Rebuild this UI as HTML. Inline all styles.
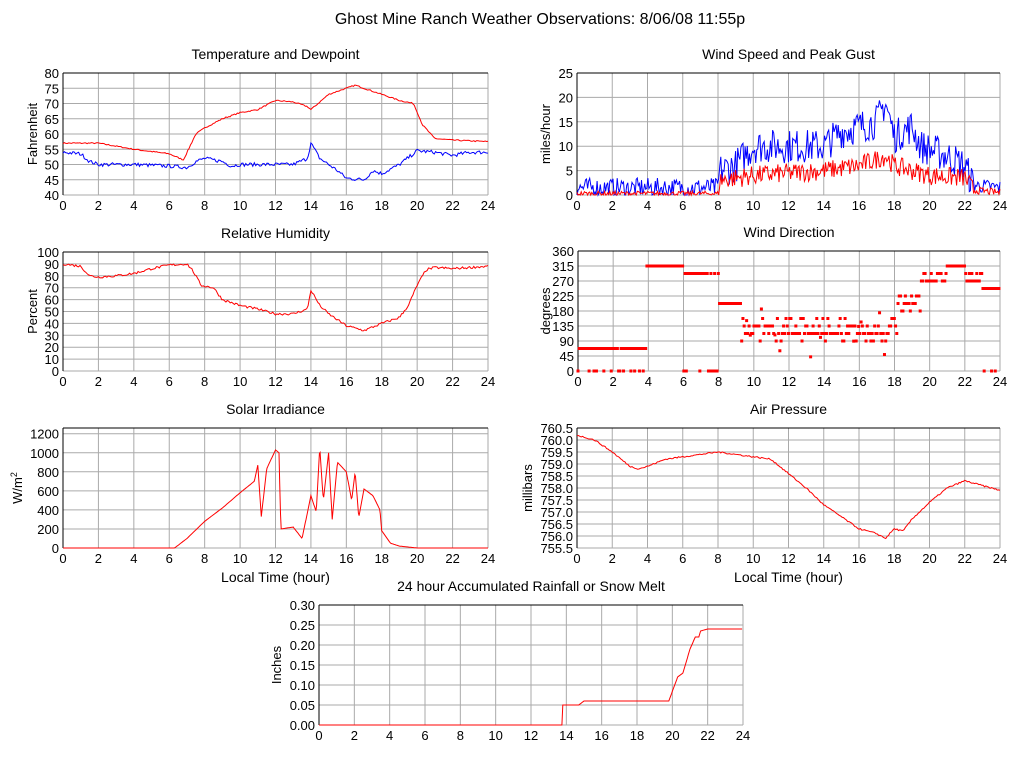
<!DOCTYPE html>
<html><head><meta charset="utf-8"><style>
body{margin:0;background:#fff;width:1024px;height:768px;overflow:hidden}
svg{font-family:"Liberation Sans",Arial,sans-serif}
</style></head><body>
<svg id="s" width="1024" height="768" xmlns="http://www.w3.org/2000/svg">
<text x="540" y="24" font-size="16" text-anchor="middle">Ghost Mine Ranch Weather Observations: 8/06/08 11:55p</text>
</svg>
<script>
var S=document.getElementById('s'),NS='http://www.w3.org/2000/svg';
function el(t,a,txt){var e=document.createElementNS(NS,t);for(var k in a)e.setAttribute(k,a[k]);if(txt!=null)e.textContent=txt;S.appendChild(e);return e;}
var seed=7;function rnd(){seed=(seed*16807)%2147483647;return seed/2147483647;}
function interp(k,h){for(var i=0;i<k.length-1;i++){if(h<=k[i+1][0]){var a=k[i],b=k[i+1],t=(h-a[0])/(b[0]-a[0]||1);return a[1]+(b[1]-a[1])*t;}}return k[k.length-1][1];}
function chart(o){
 var L=o.x0,R=o.x1,T=o.y0,B=o.y1,W=R-L,H=B-T;
 function X(h){return L+h/24*W}function Y(v){return B-(v-o.min)/(o.max-o.min)*H}
 el('text',{x:(L+R)/2,y:T-14,'font-size':14,'text-anchor':'middle'},o.title);
 for(var h=0;h<=24;h+=2){el('line',{x1:X(h),x2:X(h),y1:T,y2:B,stroke:'#aaa','stroke-width':1});
  el('text',{x:X(h),y:B+15,'font-size':13,'text-anchor':'middle'},h);}
 for(var i=0;i<o.labels.length;i++){var v=o.labels[i];el('line',{x1:L,x2:R,y1:Y(v),y2:Y(v),stroke:'#aaa','stroke-width':1});
  el('text',{x:L-4,y:Y(v)+5,'font-size':13,'text-anchor':'end'},o.fmt?o.fmt(v):v);}
 el('line',{x1:L,x2:R,y1:T,y2:T,stroke:'#000'});el('line',{x1:L,x2:L,y1:T,y2:B,stroke:'#000'});
 var yl=el('text',{x:0,y:0,'font-size':13,'text-anchor':'middle',transform:'translate('+o.ylx+','+(T+B)/2+') rotate(-90)'},o.ylab);
 if(o.sup){var ts=document.createElementNS(NS,'tspan');ts.setAttribute('baseline-shift','super');ts.setAttribute('font-size','9');ts.textContent=o.sup;yl.appendChild(ts);}
 if(o.xlab)el('text',{x:(L+R)/2,y:B+34,'font-size':14,'text-anchor':'middle'},o.xlab);
 o.series.forEach(function(s){
  if(s.dots){s.dots.forEach(function(p){el('rect',{x:X(p[0])-1.5,y:Y(p[1])-1.5,width:3,height:3,fill:'red'})});return;}
  var pts=[];for(var h=0;h<=24;h+=s.step||0.08){var v=interp(s.k,h)+(s.noise?s.noise(h):0);if(v<o.min)v=o.min;if(v>o.max)v=o.max;pts.push(X(h).toFixed(1)+','+Y(v).toFixed(1));}
  el('polyline',{points:pts.join(' '),fill:'none',stroke:s.c,'stroke-width':1});
 });
}
function n(a){return function(){return (rnd()-0.5)*a}}
chart({x0:63,x1:488,y0:73,y1:195,min:40,max:80,labels:[40,45,50,55,60,65,70,75,80],title:'Temperature and Dewpoint',ylab:'Fahrenheit',ylx:37,series:[
 {c:'red',noise:n(0.4),k:[[0,57],[2,57],[4,55],[6,53.5],[6.8,51.5],[7.5,60],[8,62],[9,65],[10,67],[11,68],[12,71],[13,70.5],[13.8,69],[14,68],[15,73],[16,75],[16.5,76],[17,75],[18,73],[19,71],[19.8,70],[20.3,63],[21,58.5],[22,58],[24,57.5]]},
 {c:'blue',noise:n(1.2),k:[[0,54],[1,53.5],[1.5,51],[2,50],[4,50],[6,49.5],[7,49],[7.5,51],[8,52],[9,51],[9.5,49.5],[10,50],[13,50],[13.8,52],[14,57],[14.5,52],[15,50],[15.5,48],[16,45.5],[17,45],[17.5,48],[18,47],[19,50],[20,54.5],[21,54],[22,53],[23,54],[24,54]]}]});
chart({x0:577,x1:1000,y0:73,y1:195,min:0,max:25,labels:[0,5,10,15,20,25],title:'Wind Speed and Peak Gust',ylab:'miles/hour',ylx:550,series:[
 {c:'blue',step:0.06,noise:function(h){return (rnd()-0.5)*(h<8?4:h>22.5?3:7)},k:[[0,1.5],[8,1.5],[8.1,5],[9,6],[10,10],[14,10],[15,13],[17,15],[17.5,19],[18,12],[19,14],[19.5,10],[21,8],[22,6],[22.5,2],[24,1.5]]},
 {c:'red',step:0.06,noise:function(h){return (rnd()-0.5)*(h<8?1:h>22.5?1.5:4)},k:[[0,0.3],[8,0.3],[8.1,3],[10,4],[14,5],[16,6],[17.5,8],[18,6],[20,4],[22,3.5],[22.5,1],[24,0.5]]}]});
chart({x0:63,x1:488,y0:252,y1:371,min:0,max:100,labels:[0,10,20,30,40,50,60,70,80,90,100],title:'Relative Humidity',ylab:'Percent',ylx:37,series:[
 {c:'red',noise:n(2),k:[[0,90],[1,88],[1.5,80],[2,79],[3,80],[4,82],[5,86],[6,89],[7,90],[7.3,85],[7.8,72],[8.5,70],[9,60],[10,55],[11,52],[12,48],[13,48],[13.8,52],[14,68],[14.5,55],[15,48],[16,38],[17,34],[18,40],[19,45],[19.5,55],[20,72],[20.5,85],[21,87],[22,86],[23,87],[24,88]]}]});
var d=[];for(var h=0;h<=24;h+=0.07){var v;
 if(h<4)v=rnd()<0.2?0:67.5;else if(h<6)v=315;else if(h<8)v=rnd()<0.3?0:292.5;else if(h<9.3)v=202.5;
 else if(h<18.2)v=[112.5,135,112.5,135,90,157.5,112.5][Math.floor(rnd()*7)]+(rnd()<0.08?(rnd()-0.5)*150:0);
 else if(h<19.5)v=180+Math.floor(rnd()*3)*22.5;else if(h<21)v=rnd()<0.5?292.5:270;else if(h<22)v=315;else if(h<23)v=rnd()<0.5?270:292.5;else v=rnd()<0.4?0:247.5;
 if(h>3.9&&h<4.05)v=315;d.push([h,v]);}
chart({x0:578,x1:1000,y0:251,y1:371,min:0,max:360,labels:[0,45,90,135,180,225,270,315,360],title:'Wind Direction',ylab:'degrees',ylx:550,series:[{dots:d}]});
chart({x0:63,x1:488,y0:428,y1:548,min:0,max:1260,labels:[0,200,400,600,800,1000,1200],title:'Solar Irradiance',ylab:'W/m',sup:'2',ylx:22,xlab:'Local Time (hour)',series:[
 {c:'red',step:0.04,k:[[0,0],[6.3,0],[7,100],[8,280],[9,420],[10,580],[10.8,700],[11,870],[11.2,330],[11.5,830],[12,1030],[12.2,1000],[12.3,200],[13,220],[13.5,100],[14,550],[14.3,380],[14.5,1060],[14.7,500],[15,1000],[15.2,300],[15.5,900],[16,800],[16.3,500],[16.5,800],[16.7,320],[17,620],[17.5,550],[17.9,400],[18,180],[18.5,50],[19,20],[20,0],[24,0]]}]});
chart({x0:577,x1:1000,y0:428,y1:548,min:755.5,max:760.5,labels:[755.5,756,756.5,757,757.5,758,758.5,759,759.5,760,760.5],fmt:function(v){return v.toFixed(1)},title:'Air Pressure',ylab:'millibars',ylx:532,xlab:'Local Time (hour)',series:[
 {c:'red',noise:n(0.06),k:[[0,760.2],[1,760],[2,759.5],[3,758.9],[3.5,758.8],[4,758.9],[5,759.2],[6,759.3],[7,759.4],[8,759.5],[9,759.4],[10,759.3],[11,759.2],[12,758.6],[13,758],[14,757.3],[15,756.8],[16,756.3],[17,756.1],[17.5,755.9],[18,756.3],[18.5,756.2],[19,756.7],[20,757.4],[21,758],[22,758.3],[22.5,758.2],[24,757.9]]}]});
chart({x0:319,x1:743,y0:605,y1:725,min:0,max:0.3,labels:[0,0.05,0.1,0.15,0.2,0.25,0.3],fmt:function(v){return v.toFixed(2)},title:'24 hour Accumulated Rainfall or Snow Melt',ylab:'Inches',ylx:281,series:[
 {c:'red',step:0.05,k:[[0,0],[13.75,0],[13.8,0.05],[14.7,0.05],[15,0.06],[19.8,0.06],[20.3,0.12],[20.6,0.13],[21,0.19],[21.3,0.22],[21.5,0.22],[21.6,0.235],[22,0.24],[24,0.24]]}]});
</script>
</body></html>
